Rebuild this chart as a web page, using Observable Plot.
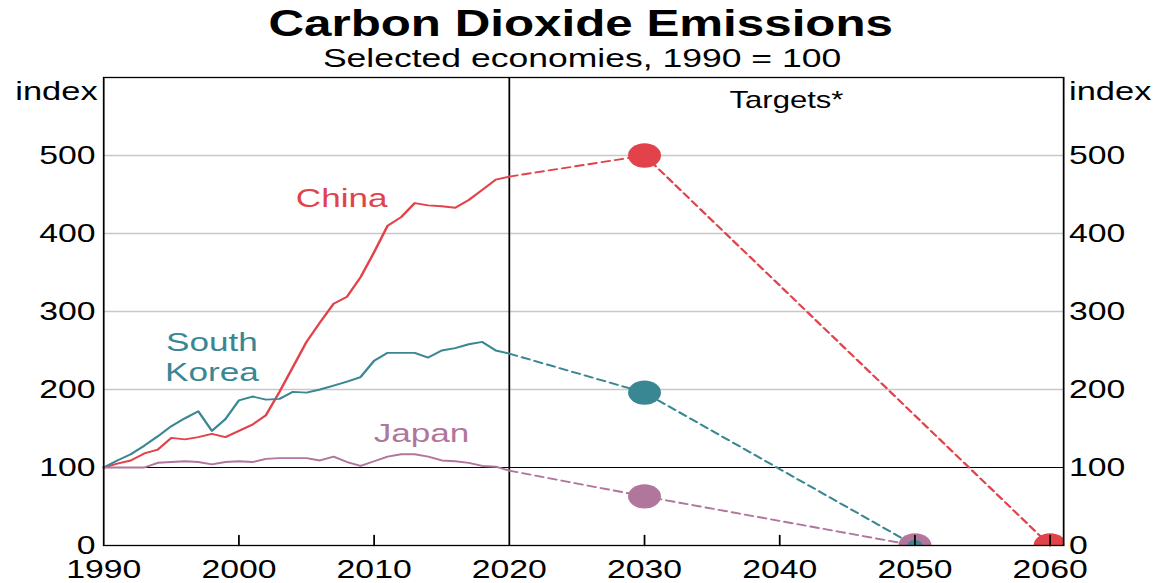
<!DOCTYPE html>
<html>
<head>
<meta charset="utf-8">
<script src="https://cdn.jsdelivr.net/npm/d3@7"></script>
<script src="https://cdn.jsdelivr.net/npm/@observablehq/plot@0.6"></script>
<style>
  html, body { margin: 0; padding: 0; background: #fff; }
  #wrap { position: absolute; left: 0; top: 0; width: 856px; height: 583px; transform: scaleX(1.3505); transform-origin: 0 0; font-family: "Liberation Sans", Arial, sans-serif; color: #000; }
  #title { position: absolute; top: 6px; left: 0; width: 860px; text-align: center; font-weight: bold; font-size: 36.5px; line-height: 1; }
  #subtitle { position: absolute; top: 45px; left: 0; width: 862px; text-align: center; font-size: 26.3px; line-height: 1; }
  #chart { position: absolute; top: 72px; left: 0; }
</style>
</head>
<body>
<div id="wrap">
  <div id="title">Carbon Dioxide Emissions</div>
  <div id="subtitle">Selected economies, 1990 = 100</div>
  <div id="chart"></div>
</div>
<script>
// ---- data ----
const countries = ["China", "South Korea", "Japan"];
const colors = ["#e2434a", "#3a8794", "#b0769b"];
const years = [1990,1991,1992,1993,1994,1995,1996,1997,1998,1999,2000,2001,2002,2003,2004,2005,2006,2007,2008,2009,2010,2011,2012,2013,2014,2015,2016,2017,2018,2019,2020];
const china = [100,105,109,118,123,138,136,139,143,139,147,155,167,197,229,261,286,310,319,344,376,410,421,439,436,435,433,443,456,469,473];
const southKorea = [100,109,117,128,140,153,163,172,147,162,186,191,187,188,197,196,200,205,210,216,237,247,247,247,241,250,253,258,261,250,246];
const japan = [100,100,100,100,106,107,108,107,104,107,108,107,111,112,112,112,109,114,107,102,108,114,117,117,114,109,108,106,102,101,96];
// targets: [year, index]
const chinaTargets = [[2030, 500], [2060, 0]];
const southKoreaTargets = [[2030, 196], [2050, 0]];
const japanTargets = [[2030, 63], [2050, 0]];
const xTicks = [1990, 2000, 2010, 2020, 2030, 2040, 2050, 2060];
const yTicks = [0, 100, 200, 300, 400, 500];
const gridTicks = [200, 300, 400, 500];
const seriesLabels = [
  {country: "China", text: "China", year: 2007.6, value: 446},
  {country: "South Korea", text: "South\nKorea", year: 1998, value: 242},
  {country: "Japan", text: "Japan", year: 2013.5, value: 145}
];

// ---- build tables ----
const seriesValues = [china, southKorea, japan];
const seriesTargets = [chinaTargets, southKoreaTargets, japanTargets];
const hist = [];
countries.forEach((c, ci) => years.forEach((y, i) => hist.push({country: c, year: y, value: seriesValues[ci][i]})));
const targetLines = [];
const targetDots = [];
countries.forEach((c, ci) => {
  const last = seriesValues[ci][seriesValues[ci].length - 1];
  targetLines.push({country: c, year: years[years.length - 1], value: last});
  seriesTargets[ci].forEach(([y, v]) => {
    targetLines.push({country: c, year: y, value: v});
    targetDots.push({country: c, year: y, value: v});
  });
});
// draw order of dots: China, Japan, then South Korea (small marker on top at the shared 2050 point)
const dotsMain = targetDots.filter(d => !(d.country === "South Korea" && d.value === 0));
dotsMain.sort((a, b) => (a.country === "Japan") - (b.country === "Japan"));
const dotsSmall = targetDots.filter(d => d.country === "South Korea" && d.value === 0);

const xMax = 2061;
const tickShape = {draw(context, length) { context.moveTo(0, 0); context.lineTo(0, -length); }};
const fontFamily = "Liberation Sans, Arial, sans-serif";

const chart = Plot.plot({
  width: 856,
  height: 511,
  marginLeft: 76.3,
  marginRight: 68.9,
  marginTop: 5,
  marginBottom: 38,
  x: {domain: [1990, xMax]},
  y: {domain: [0, 600]},
  color: {domain: countries, range: colors},
  style: {fontFamily, fontSize: "25px", color: "black", background: "white", overflow: "visible"},
  marks: [
    Plot.ruleY(gridTicks, {stroke: "#c8c8c8", strokeWidth: 1.6}),
    Plot.ruleY([100], {stroke: "black", strokeWidth: 1.2}),
    Plot.ruleX([2020], {stroke: "black", strokeWidth: 1.3}),
    Plot.line(targetLines, {x: "year", y: "value", z: "country", stroke: "country", strokeWidth: 1.9, strokeDasharray: "6,4"}),
    Plot.line(hist, {x: "year", y: "value", z: "country", stroke: "country", strokeWidth: 1.9}),
    Plot.dot(dotsMain, {x: "year", y: "value", fill: "country", r: 12.2, clip: true}),
    Plot.dot(dotsSmall, {x: "year", y: "value", fill: "country", r: 5.5, clip: true}),
    Plot.vector(xTicks.filter(d => d > 1990 && d !== 2020), {x: d => d, y: () => 0, length: 10, rotate: 0, anchor: "start", shape: tickShape, stroke: "black", strokeWidth: 1.3}),
    Plot.frame({stroke: "black", strokeWidth: 1.3}),
    Plot.axisX(xTicks, {tickSize: 0, tickPadding: 14.5, tickFormat: d => String(d), fontSize: 25, label: null}),
    Plot.axisY(yTicks, {anchor: "left", tickSize: 0, tickPadding: 6, tickFormat: d => String(d), fontSize: 25, label: null}),
    Plot.axisY(yTicks, {anchor: "right", tickSize: 0, tickPadding: 4, tickFormat: d => String(d), fontSize: 25, label: null}),
    Plot.text(["index"], {frameAnchor: "top-left", textAnchor: "end", lineAnchor: "top", dx: -4.5, dy: 4, fontSize: 25.5}),
    Plot.text(["index"], {frameAnchor: "top-right", textAnchor: "start", lineAnchor: "top", dx: 4, dy: 4, fontSize: 25.5}),
    Plot.text(["Targets*"], {x: () => (2020 + xMax) / 2, frameAnchor: "top", lineAnchor: "top", dy: 14, fontSize: 23}),
    Plot.text(seriesLabels, {x: "year", y: "value", text: "text", fill: "country", fontSize: 26, lineHeight: 1.15})
  ]
});
document.getElementById("chart").appendChild(chart);
</script>
</body>
</html>
